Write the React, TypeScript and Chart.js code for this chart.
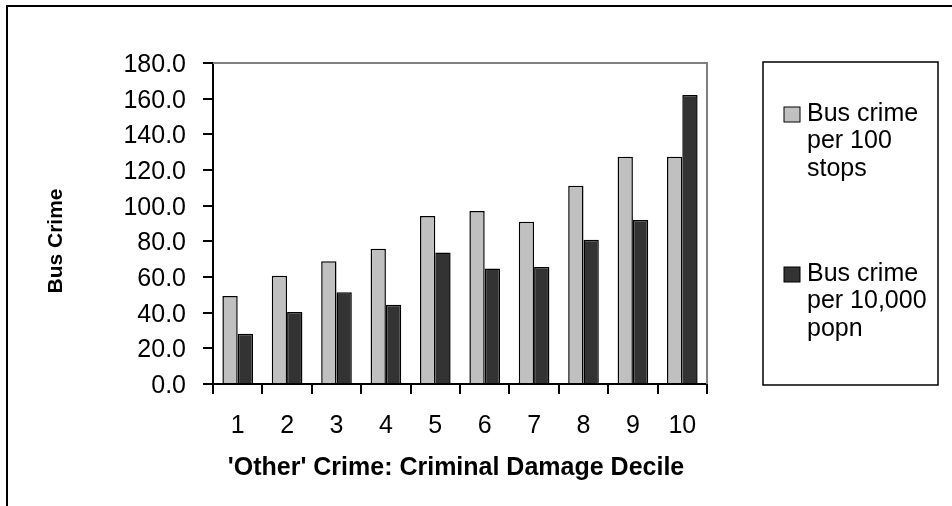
import React, { useEffect, useRef } from "react";
import { Chart, registerables } from "chart.js";

Chart.register(...registerables);

const CATEGORIES = ["1", "2", "3", "4", "5", "6", "7", "8", "9", "10"];
const PER_100_STOPS = [49.3, 60.7, 68.8, 75.9, 94.2, 97.0, 91.0, 111.2, 127.5, 127.5];
const PER_10000_POPN = [28.2, 40.4, 51.4, 44.5, 73.8, 64.7, 65.6, 80.9, 92.0, 162.1];
const LEGEND_LINES = [
  ["Bus crime", "per 100", "stops"],
  ["Bus crime", "per 10,000", "popn"],
];
const Y_MIN = 0;
const Y_MAX = 180;
const Y_STEP = 20;
const X_TITLE = "'Other' Crime: Criminal Damage Decile";
const Y_TITLE = "Bus Crime";

const FONT = "'Liberation Sans', Arial, sans-serif";

const decor = {
  id: "decor",
  beforeDraw(chart: any) {
    const ctx = chart.ctx;
    ctx.save();
    ctx.fillStyle = "#fff";
    ctx.fillRect(0, 0, chart.width, chart.height);
    ctx.restore();
  },
  afterDraw(chart: any) {
    const ctx = chart.ctx;
    const a = chart.chartArea;
    ctx.save();
    // outer frame
    ctx.strokeStyle = "#000";
    ctx.lineWidth = 2;
    ctx.beginPath();
    ctx.moveTo(7, chart.height);
    ctx.lineTo(7, 6);
    ctx.lineTo(chart.width, 6);
    ctx.stroke();
    // plot area border (top/right)
    ctx.strokeStyle = "#808080";
    ctx.lineWidth = 2;
    ctx.beginPath();
    ctx.moveTo(a.left, a.top);
    ctx.lineTo(a.right, a.top);
    ctx.lineTo(a.right, a.bottom);
    ctx.stroke();
    // legend box
    const lx = 763, ly = 62, lw = 175, lh = 323;
    ctx.strokeStyle = "#000";
    ctx.lineWidth = 1.5;
    ctx.strokeRect(lx, ly, lw, lh);
    const itemTops = [114, 274];
    ctx.font = `25px ${FONT}`;
    ctx.textBaseline = "middle";
    ctx.textAlign = "left";
    chart.data.datasets.forEach((ds: any, i: number) => {
      const t = itemTops[i];
      ctx.fillStyle = ds.backgroundColor;
      ctx.fillRect(784, t - 7, 16, 15);
      ctx.strokeStyle = "#000";
      ctx.lineWidth = 1;
      ctx.strokeRect(784, t - 7, 16, 15);
      ctx.fillStyle = "#000";
      LEGEND_LINES[i].forEach((line, j) => {
        ctx.fillText(line, 807, t + j * 27.5);
      });
    });
    // axis titles
    ctx.fillStyle = "#000";
    ctx.font = `bold 25px ${FONT}`;
    ctx.textAlign = "center";
    ctx.textBaseline = "middle";
    ctx.fillText(X_TITLE, 456, 468);
    ctx.save();
    ctx.translate(56, 241);
    ctx.rotate(-Math.PI / 2);
    ctx.font = `bold 21px ${FONT}`;
    ctx.fillText(Y_TITLE, 0, 0);
    ctx.restore();
    ctx.restore();
  },
};

export default function App() {
  const ref = useRef<HTMLCanvasElement | null>(null);
  useEffect(() => {
    if (!ref.current) return;
    const chart = new Chart(ref.current, {
      type: "bar",
      data: {
        labels: CATEGORIES,
        datasets: [
          {
            label: LEGEND_LINES[0].join(" "),
            data: PER_100_STOPS,
            backgroundColor: "#c0c0c0",
            borderColor: "#000",
            borderWidth: 1.5,
          },
          {
            label: LEGEND_LINES[1].join(" "),
            data: PER_10000_POPN,
            backgroundColor: "#333333",
            borderColor: "#000",
            borderWidth: 1.5,
          },
        ],
      },
      options: {
        animation: false,
        responsive: false,
        maintainAspectRatio: false,
        layout: { padding: { left: 0, top: 63, right: 245, bottom: 0 } },
        plugins: {
          legend: { display: false },
          title: { display: false },
          tooltip: { enabled: false },
        },
        datasets: { bar: { categoryPercentage: 0.62, barPercentage: 1 } },
        scales: {
          x: {
            grid: {
              display: true,
              drawOnChartArea: false,
              drawTicks: true,
              tickLength: 10,
              color: "#000",
              lineWidth: 2,
              offset: true,
            },
            border: { display: true, color: "#000", width: 2 },
            ticks: {
              color: "#000",
              font: { family: FONT, size: 25 },
              padding: 17,
              maxRotation: 0,
            },
            afterFit: (scale: any) => {
              scale.height = 122;
            },
          },
          y: {
            min: Y_MIN,
            max: Y_MAX,
            grid: {
              display: true,
              drawOnChartArea: false,
              drawTicks: true,
              tickLength: 10,
              color: "#000",
              lineWidth: 2,
            },
            border: { display: true, color: "#000", width: 2 },
            ticks: {
              stepSize: Y_STEP,
              color: "#000",
              font: { family: FONT, size: 25 },
              padding: 17,
              labelOffset: 2,
              callback: (v: any) => Number(v).toFixed(1),
            },
            afterFit: (scale: any) => {
              scale.width = 213;
            },
          },
        },
      },
      plugins: [decor],
    });
    return () => chart.destroy();
  }, []);
  return (
    <div style={{ position: "absolute", left: 0, top: 0, width: 952, height: 506 }}>
      <canvas ref={ref} width={952} height={506} style={{ width: 952, height: 506, display: "block" }} />
    </div>
  );
}
